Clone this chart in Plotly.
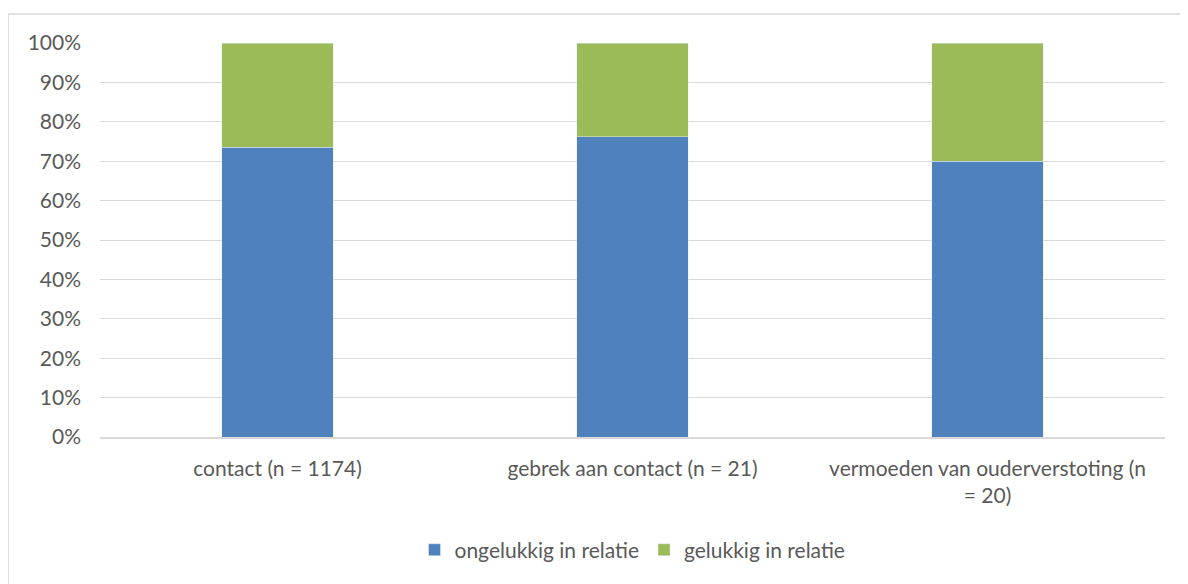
import plotly.graph_objects as go

categories = ["contact (n = 1174)", "gebrek aan contact (n = 21)",
              "vermoeden van ouderverstoting (n<br>= 20)"]
ongelukkig = [73.6, 76.2, 70.0]
gelukkig = [26.4, 23.8, 30.0]
tick_vals = [0, 10, 20, 30, 40, 50, 60, 70, 80, 90, 100]
tick_text = [f"{v}%" for v in tick_vals]

fig = go.Figure()
fig.add_trace(go.Bar(name="ongelukkig in relatie", x=categories, y=ongelukkig,
                     marker_color="#4f81bd", width=0.313))
fig.add_trace(go.Bar(name="gelukkig in relatie", x=categories, y=gelukkig,
                     marker_color="#9bbb59", width=0.313))

# page has an 8px body margin, so figure coords are shifted by 8
W, H = 1188, 584
ml, mt, pw, ph = 92, 35, 1065, 394
mr, mb = W - ml - pw, H - mt - ph

fig.update_layout(
    barmode="stack",
    width=W, height=H,
    margin=dict(l=ml, r=mr, t=mt, b=mb),
    paper_bgcolor="white", plot_bgcolor="white",
    font=dict(family="Lato, Open Sans, sans-serif", size=21, color="#595959"),
    showlegend=True,
    legend=dict(orientation="h", x=0.5, xanchor="center", y=-0.235, yanchor="top",
                font=dict(size=21, color="#595959"), itemwidth=30, traceorder="normal"),
    xaxis=dict(showgrid=False, showline=True, linecolor="#d9d9d9", linewidth=1.5,
               ticks="", tickfont=dict(size=21), ticklabelstandoff=12),
    yaxis=dict(range=[0, 100], tickvals=tick_vals, ticktext=tick_text,
               showgrid=True, gridcolor="#d9d9d9", gridwidth=1.2,
               zeroline=False, showline=False, ticks="", tickfont=dict(size=21),
               ticklabelstandoff=18),
    shapes=[dict(type="rect", xref="paper", yref="paper",
                 x0=-ml / pw, x1=(W + 5 - ml) / pw,
                 y0=-(mb + 5) / ph, y1=(ph + mt - 6) / ph,
                 line=dict(color="#d9d9d9", width=1.5), layer="below")],
)

fig.write_html("out.html")
